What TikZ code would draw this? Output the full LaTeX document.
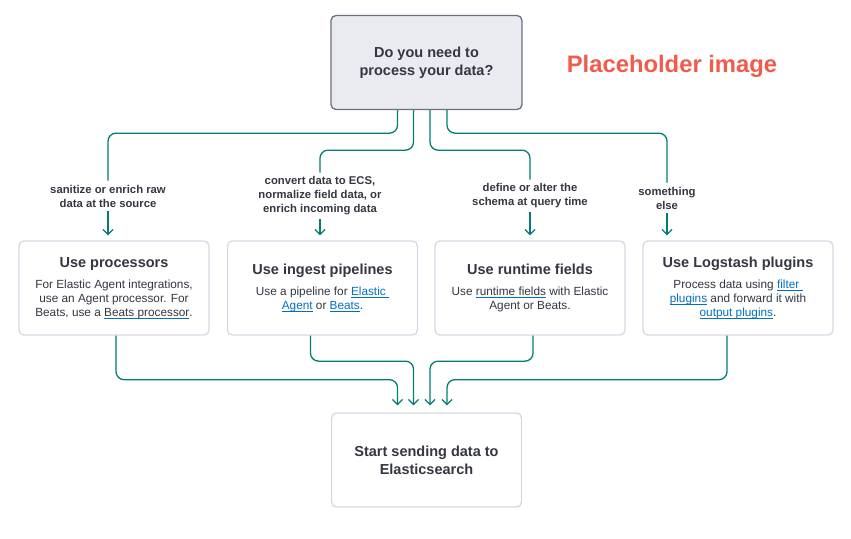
\documentclass[tikz,border=0pt]{standalone}
\usepackage{fontspec}
\setmainfont{Liberation Sans}
\usetikzlibrary{arrows.meta,positioning}

\definecolor{flowgreen}{HTML}{017D73}
\definecolor{linkblue}{HTML}{0071C2}
\definecolor{inkgray}{HTML}{343741}
\definecolor{qfill}{HTML}{E9EBF0}
\definecolor{qline}{HTML}{69707D}
\definecolor{boxline}{HTML}{D3DAE6}
\definecolor{placered}{HTML}{F25A4B}

% underlined link text: #1 text colour, #2 text
\newcommand{\uln}[2]{\setbox0\hbox{#2}\rlap{\textcolor{linkblue}{\rule[-2pt]{\wd0}{0.7pt}}}\textcolor{#1}{\box0}}
\newcommand{\titlef}{\fontsize{14.5}{17}\selectfont\bfseries}

\begin{document}
\begin{tikzpicture}[x=1pt,y=-1pt,
    question/.style={draw=qline,fill=qfill,line width=1.3pt,rounded corners=5pt,
      minimum width=191pt,minimum height=94pt,align=center,text=inkgray,
      font=\fontsize{14.5}{18}\selectfont\bfseries},
    choice/.style={draw=boxline,fill=white,line width=1.3pt,rounded corners=5pt,
      minimum width=190pt,minimum height=94pt,align=center,text=inkgray,
      font=\fontsize{11.8}{14}\selectfont},
    answer/.style={align=center,text=inkgray,inner sep=4pt,
      font=\fontsize{11.3}{14}\selectfont\bfseries},
    flow/.style={draw=flowgreen,line width=1.3pt,rounded corners=8pt},
    tip/.style={-{Straight Barb[length=5pt,width=10pt]}}]
  \useasboundingbox (0,0) rectangle (851,538);

  \node[question] (q) at (426.5,62.5) {Do you need to\\process your data?};
  \node[text=placered,font=\fontsize{23.8}{28}\selectfont\bfseries] (ph) at (672,66) {Placeholder image};

  \node[answer] (lsan) at (108,196) {sanitize or enrich raw\\data at the source};
  \node[answer] (lconv) at (320,196) {convert data to ECS,\\normalize field data, or\\enrich incoming data};
  \node[answer] (ldef) at (530,196) {define or alter the\\schema at query time};
  \node[answer] (lelse) at (667,198) {something\\else};

  \node[choice] (proc) at (114,288) {{\titlef Use processors}\\[7pt]
    For Elastic Agent integrations,\\use an Agent processor. For\\Beats, use a \uln{inkgray}{Beats processor}.};
  \node[choice] (ingest) at (322.5,288) {{\titlef Use ingest pipelines}\\[7pt]
    Use a pipeline for \uln{linkblue}{Elastic }\\\uln{linkblue}{Agent} or \uln{linkblue}{Beats}.};
  \node[choice] (runtime) at (530,288) {{\titlef Use runtime fields}\\[7pt]
    Use \uln{inkgray}{runtime fields} with Elastic\\Agent or Beats.};
  \node[choice] (logstash) at (738,288) {{\titlef Use Logstash plugins}\\[7pt]
    Process data using \uln{linkblue}{filter }\\\uln{linkblue}{plugins} and forward it with\\\uln{linkblue}{output plugins}.};

  \node[choice,font=\fontsize{14.5}{18}\selectfont\bfseries] (start) at (426.5,460) {Start sending data to\\Elasticsearch};

  % question to answers
  \draw[flow] ([xshift=-29pt]q.south) -- ++(0,23) -| (lsan.north);
  \draw[flow] ([xshift=-13pt]q.south) -- ++(0,40) -| (lconv.north);
  \draw[flow] ([xshift=3.5pt]q.south) -- ++(0,40) -| (ldef.north);
  \draw[flow] ([xshift=20.5pt]q.south) -- ++(0,23) -| (lelse.north);

  \draw[flow,tip,shorten >=5pt] (lsan.south) -- (lsan.south |- proc.north);
  \draw[flow,tip,shorten >=5pt] (lconv.south) -- (lconv.south |- ingest.north);
  \draw[flow,tip,shorten >=5pt] (ldef.south) -- (ldef.south |- runtime.north);
  \draw[flow,tip,shorten >=5pt] (lelse.south) -- (lelse.south |- logstash.north);

  % choices to start
  \draw[flow,tip,shorten >=7pt] ([xshift=2pt]proc.south) -- ++(0,44) -| ([xshift=-29pt]start.north);
  \draw[flow,tip,shorten >=7pt] ([xshift=-12pt]ingest.south) -- ++(0,25.5) -| ([xshift=-13pt]start.north);
  \draw[flow,tip,shorten >=7pt] ([xshift=3pt]runtime.south) -- ++(0,25.5) -| ([xshift=3.5pt]start.north);
  \draw[flow,tip,shorten >=7pt] ([xshift=-11pt]logstash.south) -- ++(0,44) -| ([xshift=20.5pt]start.north);
\end{tikzpicture}
\end{document}
